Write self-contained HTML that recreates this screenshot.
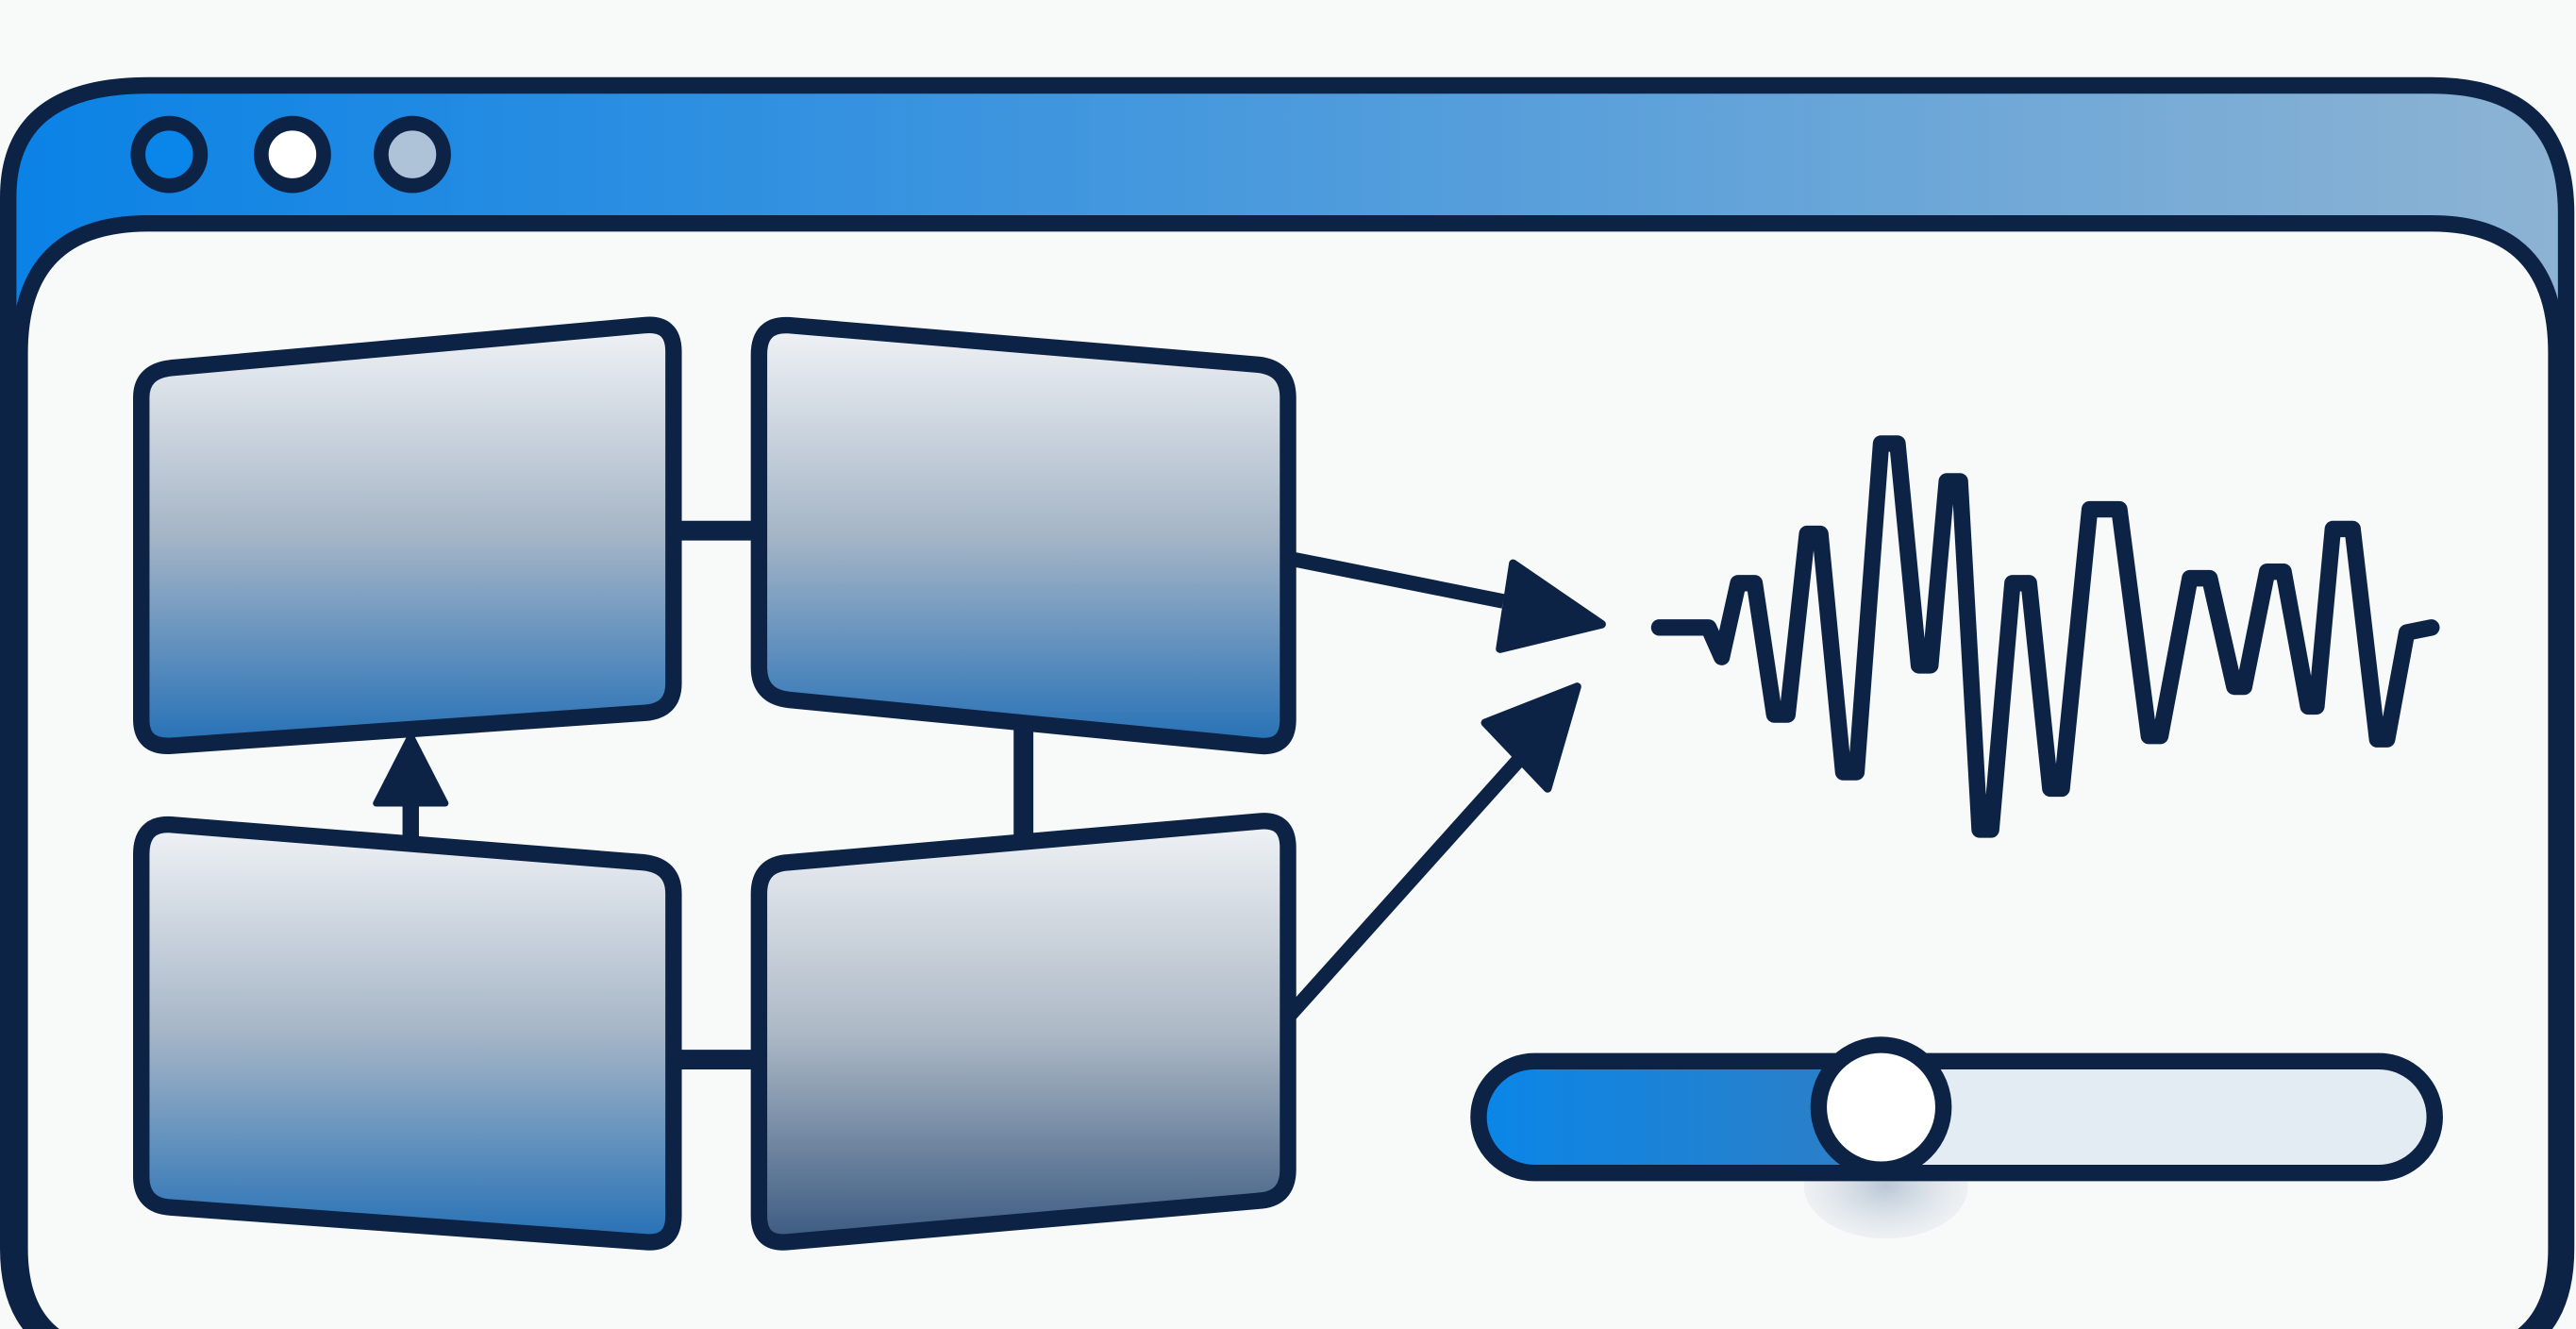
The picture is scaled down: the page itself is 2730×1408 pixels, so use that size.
<!DOCTYPE html>
<html><head><style>html,body{margin:0;padding:0;background:#f8f9f9;width:2730px;height:1408px;overflow:hidden}svg{display:block}</style></head>
<body>
<svg width="2730" height="1408" viewBox="0 0 1568 809" preserveAspectRatio="none" xmlns="http://www.w3.org/2000/svg">
<defs>
<linearGradient id="tb" x1="0" x2="1" y1="0" y2="0"><stop offset="0" stop-color="#0a82e6"/><stop offset="1" stop-color="#8db3d3"/></linearGradient>
<linearGradient id="pg" x1="0" x2="0" y1="0" y2="1"><stop offset="0" stop-color="#f0f3f6"/><stop offset="0.5" stop-color="#a5b5c6"/><stop offset="1" stop-color="#2570b6"/></linearGradient>
<linearGradient id="pg4" x1="0" x2="0" y1="0" y2="1"><stop offset="0" stop-color="#f0f3f6"/><stop offset="0.5" stop-color="#adb9c6"/><stop offset="1" stop-color="#3b5a80"/></linearGradient>
<linearGradient id="sl" x1="0" x2="1"><stop offset="0" stop-color="#0a86e8"/><stop offset="1" stop-color="#2f7fc4"/></linearGradient>
<radialGradient id="sh"><stop offset="0" stop-color="#b9c8d6"/><stop offset="1" stop-color="#d6dee6" stop-opacity="0.3"/></radialGradient>
</defs>
<rect width="1568" height="809" fill="#f8f9f9"/>
<path d="M5,760 V120 Q5,52 90,52 H1480 Q1562,52 1562,130 V760 Q1562,830 1490,830 H80 Q5,830 5,760 Z" fill="url(#tb)" stroke="#0c2346" stroke-width="10"/>
<path d="M12,760 V215 Q12,136 90,136 H1480 Q1556,136 1556,215 V760 Q1556,826 1490,826 H80 Q12,826 12,760 Z" fill="#f8f9f9" stroke="#0c2346" stroke-width="10"/>
<circle cx="103" cy="94" r="19" fill="#0a86ea" stroke="#0c2346" stroke-width="9"/>
<circle cx="178" cy="94" r="19" fill="#ffffff" stroke="#0c2346" stroke-width="9"/>
<circle cx="251" cy="94" r="19" fill="#aec3d8" stroke="#0c2346" stroke-width="9"/>
<g stroke="#0c2346" stroke-width="10" stroke-linejoin="round">
<line x1="410" y1="323" x2="462" y2="323" stroke-width="12"/>
<line x1="410" y1="645" x2="462" y2="645" stroke-width="12"/>
<line x1="623" y1="440" x2="623" y2="512" stroke-width="12"/>
<line x1="250" y1="480" x2="250" y2="512" stroke-width="10"/>
<polygon points="250,448 271,489 229,489" fill="#0c2346" stroke-width="4"/>
<polyline points="785,340 915,366" fill="none" stroke-width="9"/>
<polygon points="975,380 921,343 913,395" fill="#0c2346" stroke-width="5"/>
<polyline points="785,618 925,462" fill="none" stroke-width="9"/>
<polygon points="960,418 904,440 942,480" fill="#0c2346" stroke-width="5"/>
<path d="M104,224 L392,198 Q410,196 410,214 V416 Q410,433 392,434 L104,454 Q86,455 86,438 V242 Q86,226 104,224 Z" fill="url(#pg)"/>
<path d="M480,198 L766,222 Q784,224 784,242 V438 Q784,456 766,454 L480,426 Q462,424 462,406 V216 Q462,197 480,198 Z" fill="url(#pg)"/>
<path d="M104,502 L392,525 Q410,527 410,544 V740 Q410,758 392,756 L104,735 Q86,734 86,716 V520 Q86,501 104,502 Z" fill="url(#pg)"/>
<path d="M480,525 L766,500 Q784,498 784,516 V712 Q784,730 766,731 L480,756 Q462,758 462,740 V544 Q462,526 480,525 Z" fill="url(#pg4)"/>
<polyline fill="none" stroke-width="10" stroke-linecap="round" points="1010,382 1040,382 1048,400 1058,355 1068,355 1080,435 1088,435 1100,325 1108,325 1122,470 1130,470 1145,270 1155,270 1168,405 1175,405 1185,293 1193,293 1205,505 1212,505 1225,355 1235,355 1248,480 1255,480 1272,310 1290,310 1308,448 1315,448 1333,352 1345,352 1360,418 1366,418 1380,348 1390,348 1405,430 1410,430 1420,322 1432,322 1447,450 1453,450 1465,385 1480,382"/>
</g>
<ellipse cx="1148" cy="722" rx="50" ry="32" fill="url(#sh)"/>
<rect x="900" y="646" width="582" height="68" rx="34" fill="#e3ebf3"/>
<path d="M934,646 H1145 V714 H934 A34,34 0 0 1 934,646 Z" fill="url(#sl)"/>
<rect x="900" y="646" width="582" height="68" rx="34" fill="none" stroke="#0c2346" stroke-width="10"/>
<circle cx="1145" cy="674" r="38" fill="#ffffff" stroke="#0c2346" stroke-width="10"/>
</svg>
</body></html>
